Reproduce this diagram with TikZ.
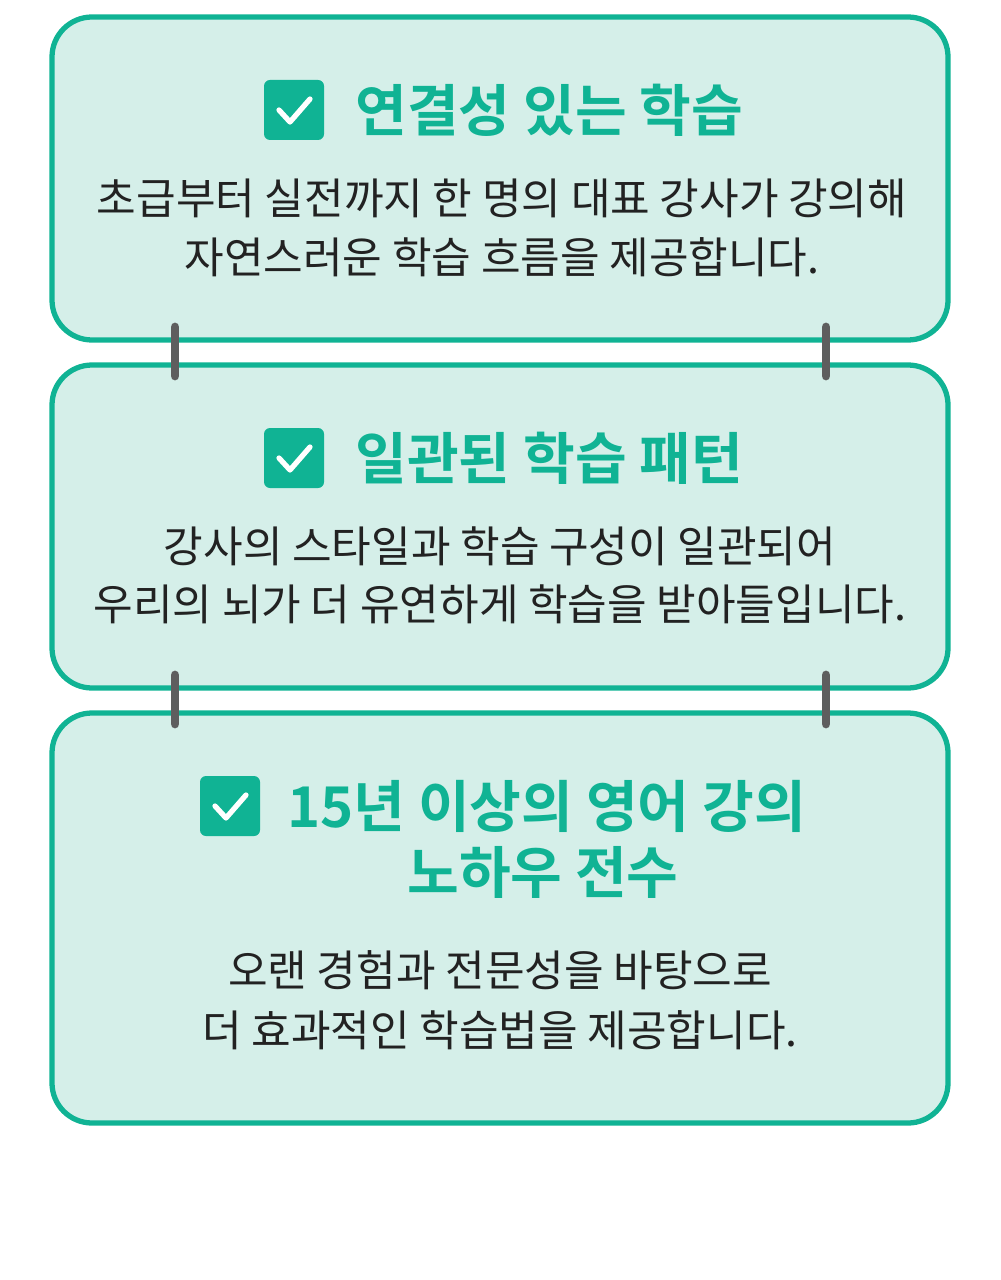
\documentclass[tikz,border=0pt]{standalone}
\usepackage{fontspec}
\setmainfont{Noto Sans CJK KR}
\newfontfamily\titlefont{Noto Sans CJK KR Bold}
\definecolor{teal}{HTML}{10B394}
\definecolor{mint}{HTML}{D5EFE9}
\definecolor{bar}{HTML}{5E5E5E}
\definecolor{ink}{HTML}{222222}
\tikzset{
  card/.style={draw=teal, line width=3pt, fill=mint, rounded corners=0.8cm},
  link/.style={draw=bar, line width=5pt, line cap=round},
  checkbox/.style={fill=teal, rounded corners=0.12cm},
  tick/.style={draw=white, line width=3pt, line cap=round, line join=round},
  heading/.style={font=\titlefont\fontsize{32}{36}\selectfont, text=teal, inner sep=0pt},
  body/.style={font=\fontsize{24.5}{28}\selectfont, text=ink, inner sep=0pt, align=center}
}
\newcommand{\checkmark}[2]{%
  \fill[checkbox] (#1,#2) rectangle ++(60,60);
  \draw[tick] (#1+15,#2+30) -- (#1+26,#2+42) -- (#1+46,#2+19);}
\begin{document}
\begin{tikzpicture}[x=0.02cm, y=-0.02cm]
    \useasboundingbox (0,0) rectangle (1000,1280);
    % Box 1
    \draw[card] (52,17) rectangle (948,340);
    \checkmark{264}{80}
    \node[heading, anchor=west] (t1) at (355,110) {연결성 있는 학습};
    \node[body] (b1a) at (502,198) {초급부터 실전까지 한 명의 대표 강사가 강의해};
    \node[body] (b1b) at (502,257) {자연스러운 학습 흐름을 제공합니다.};
    % Box 2
    \draw[card] (52,365) rectangle (948,688);
    \checkmark{264}{428}
    \node[heading, anchor=west] (t2) at (355,458) {일관된 학습 패턴};
    \node[body] (b2a) at (500,546) {강사의 스타일과 학습 구성이 일관되어};
    \node[body] (b2b) at (500,604) {우리의 뇌가 더 유연하게 학습을 받아들입니다.};
    % Box 3
    \draw[card] (52,713) rectangle (948,1123);
    \checkmark{200}{776}
    \node[heading, anchor=west] (t3a) at (287,806) {15년 이상의 영어 강의};
    \node[heading] (t3b) at (543,872) {노하우 전수};
    \node[body] (b3a) at (500,970) {오랜 경험과 전문성을 바탕으로};
    \node[body] (b3b) at (500,1030) {더 효과적인 학습법을 제공합니다.};
    % Connectors
    \draw[link] (175,327) -- (175,376);
    \draw[link] (826,327) -- (826,376);
    \draw[link] (175,675) -- (175,724);
    \draw[link] (826,675) -- (826,724);
\end{tikzpicture}
\end{document}
